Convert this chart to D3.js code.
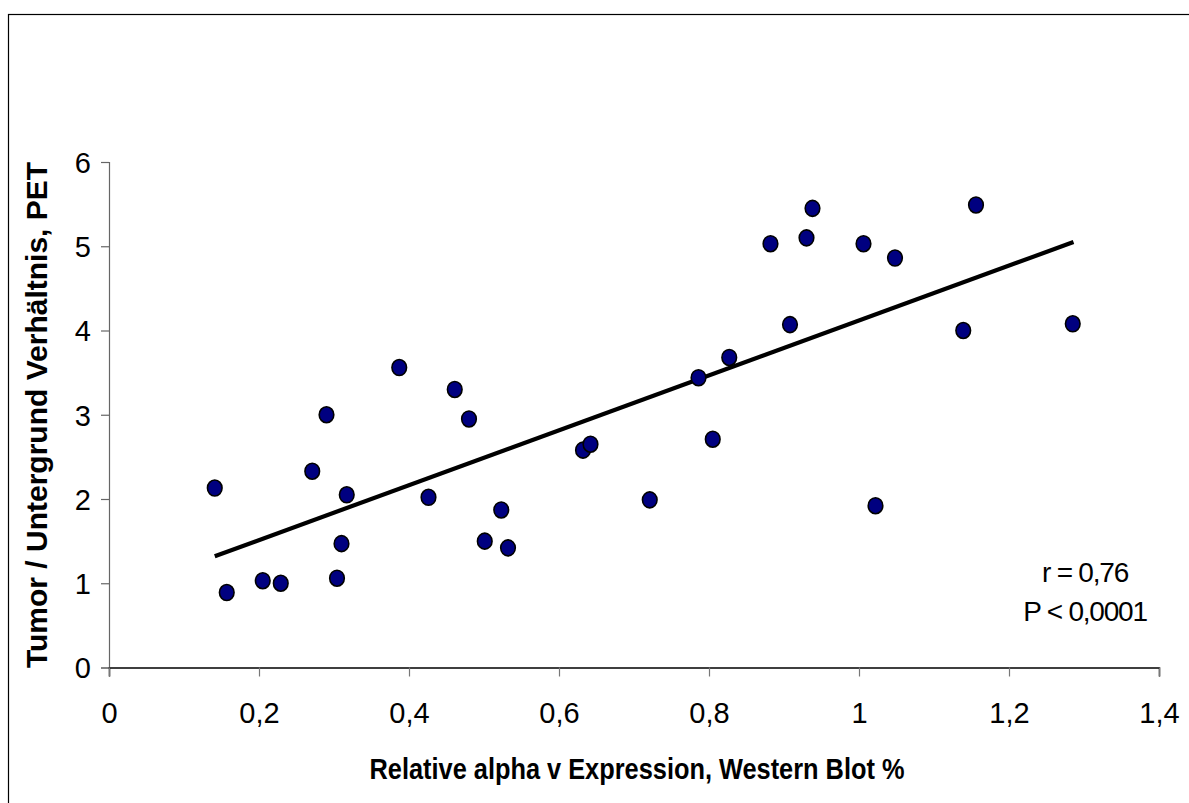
<!DOCTYPE html>
<html>
<head>
<meta charset="utf-8">
<script src="https://cdn.jsdelivr.net/npm/d3@7"></script>
<style>
  body { margin: 0; background: #fff; }
  svg { display: block; font-family: "Liberation Sans", Arial, sans-serif; }
</style>
</head>
<body>
<svg width="1189" height="803"></svg>
<script>
// values
var alphaV = [0.141, 0.157, 0.205, 0.229, 0.271, 0.290, 0.304, 0.310, 0.317, 0.387, 0.426,
              0.461, 0.480, 0.501, 0.523, 0.532, 0.632, 0.642, 0.721, 0.786, 0.805, 0.827,
              0.882, 0.908, 0.930, 0.938, 1.006, 1.022, 1.048, 1.139, 1.156, 1.285];
var ratioPET = [2.13, 0.89, 1.03, 1.00, 2.33, 3.00, 1.06, 1.47, 2.05, 3.56, 2.02,
                3.30, 2.95, 1.50, 1.87, 1.42, 2.58, 2.65, 1.99, 3.44, 2.71, 3.68,
                5.03, 4.07, 5.10, 5.45, 5.03, 1.92, 4.86, 4.00, 5.49, 4.08];
var trendX = [0.141, 1.286];
var trendY = [1.32, 5.05];
var xTicks = [0, 0.2, 0.4, 0.6, 0.8, 1, 1.2, 1.4];
var yTicks = [0, 1, 2, 3, 4, 5, 6];
var statLines = ["r = 0,76", "P < 0,0001"];
var xTitle = "Relative alpha v Expression, Western Blot %";
var yTitle = "Tumor / Untergrund Verhältnis, PET";

var svg = d3.select("svg");
var de = d3.formatLocale({decimal: ",", thousands: ".", grouping: [3], currency: ["", " €"]});
var fmt = function(d) { return de.format("~g")(d); };

// outer frame (right and bottom edges fall off the picture)
svg.append("rect")
    .attr("x", 8.5).attr("y", 14.5)
    .attr("width", 1200).attr("height", 800)
    .attr("fill", "none").attr("stroke", "#000").attr("stroke-width", 1.2);

var x = d3.scaleLinear().domain([0, 1.4]).range([109, 1159]);
var y = d3.scaleLinear().domain([0, 6]).range([667.5, 162]);

// y axis
var gy = svg.append("g")
    .attr("transform", "translate(109,0)")
    .call(d3.axisLeft(y).tickValues(yTicks).tickFormat(fmt).tickSize(8).tickPadding(10));
gy.select(".domain").attr("stroke", "#666").attr("stroke-width", 1.2);
gy.selectAll(".tick line").attr("stroke", "#666").attr("stroke-width", 1.2);
gy.selectAll("text").attr("font-size", 29).attr("fill", "#000").attr("dy", "0.36em");

// x axis
var gx = svg.append("g")
    .attr("transform", "translate(0,667.5)")
    .call(d3.axisBottom(x).tickValues(xTicks).tickFormat(fmt).tickSizeOuter(0).tickSize(9).tickPadding(26));
gx.select(".domain").attr("stroke", "#000").attr("stroke-width", 1.5);
gx.selectAll(".tick line").attr("stroke", "#777").attr("stroke-width", 1.2);
gx.selectAll("text").attr("font-size", 29).attr("fill", "#000").attr("dy", "0.71em");

// trend line
svg.append("line")
    .attr("x1", x(trendX[0])).attr("y1", y(trendY[0]))
    .attr("x2", x(trendX[1])).attr("y2", y(trendY[1]))
    .attr("stroke", "#000").attr("stroke-width", 4.2);

// points
svg.append("g").selectAll("ellipse")
    .data(alphaV.map(function(v, i) { return {x: v, y: ratioPET[i]}; }))
    .enter().append("ellipse")
    .attr("cx", function(d) { return x(d.x); })
    .attr("cy", function(d) { return y(d.y); })
    .attr("rx", 7.3).attr("ry", 8)
    .attr("fill", "#000080")
    .attr("stroke", "#000").attr("stroke-width", 1.6);

// stats
svg.append("g").selectAll("text")
    .data(statLines)
    .enter().append("text")
    .attr("x", 1085)
    .attr("y", function(d, i) { return 582 + i * 39; })
    .attr("text-anchor", "middle")
    .attr("font-size", 28)
    .attr("letter-spacing", -1.2)
    .text(function(d) { return d; });

// axis titles
svg.append("text")
    .attr("x", 637).attr("y", 779)
    .attr("text-anchor", "middle")
    .attr("font-size", 29).attr("font-weight", "bold")
    .attr("textLength", 535).attr("lengthAdjust", "spacingAndGlyphs")
    .text(xTitle);

svg.append("text")
    .attr("transform", "translate(47,415) rotate(-90)")
    .attr("text-anchor", "middle")
    .attr("font-size", 30).attr("font-weight", "bold")
    .text(yTitle);
</script>
</body>
</html>
